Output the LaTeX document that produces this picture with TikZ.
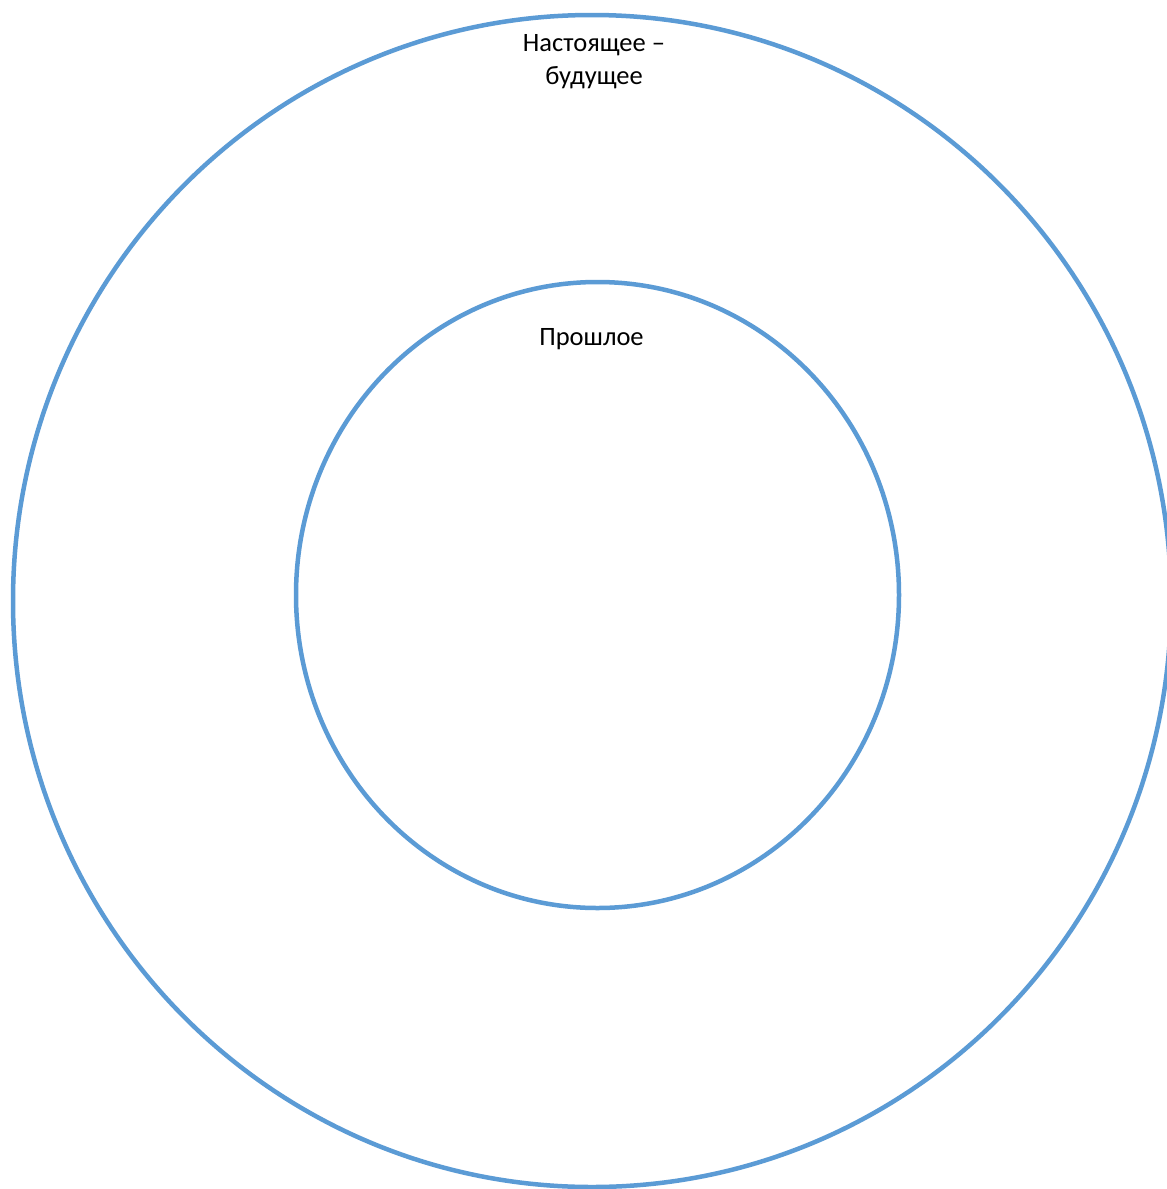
\documentclass[tikz,border=0pt]{standalone}
\usepackage{fontspec}
\setmainfont{Carlito}
\usetikzlibrary{shapes.geometric}
\definecolor{ringblue}{HTML}{5B9BD5}
\begin{document}
\begin{tikzpicture}[x=1pt,y=-1pt,
  ring/.style={ellipse,draw=ringblue,line width=4.5pt,inner sep=0pt,outer sep=0pt},
  lbl/.style={font=\fontsize{26.5}{33}\selectfont,inner sep=0pt,align=center}]
\useasboundingbox[fill=white] (0,0) rectangle (1167,1189);
\clip (0,0) rectangle (1167,1189);
\node[ring,minimum width=1158pt,minimum height=1172pt] (outer) at (592,601) {};
\node[ring,minimum width=603pt,minimum height=626pt] (inner) at (597.5,595) {};
\node[lbl,anchor=north] (present) at (594,34) {Настоящее –\\будущее};
\node[lbl,anchor=base] (past) at (591.5,345) {Прошлое};
\end{tikzpicture}
\end{document}
